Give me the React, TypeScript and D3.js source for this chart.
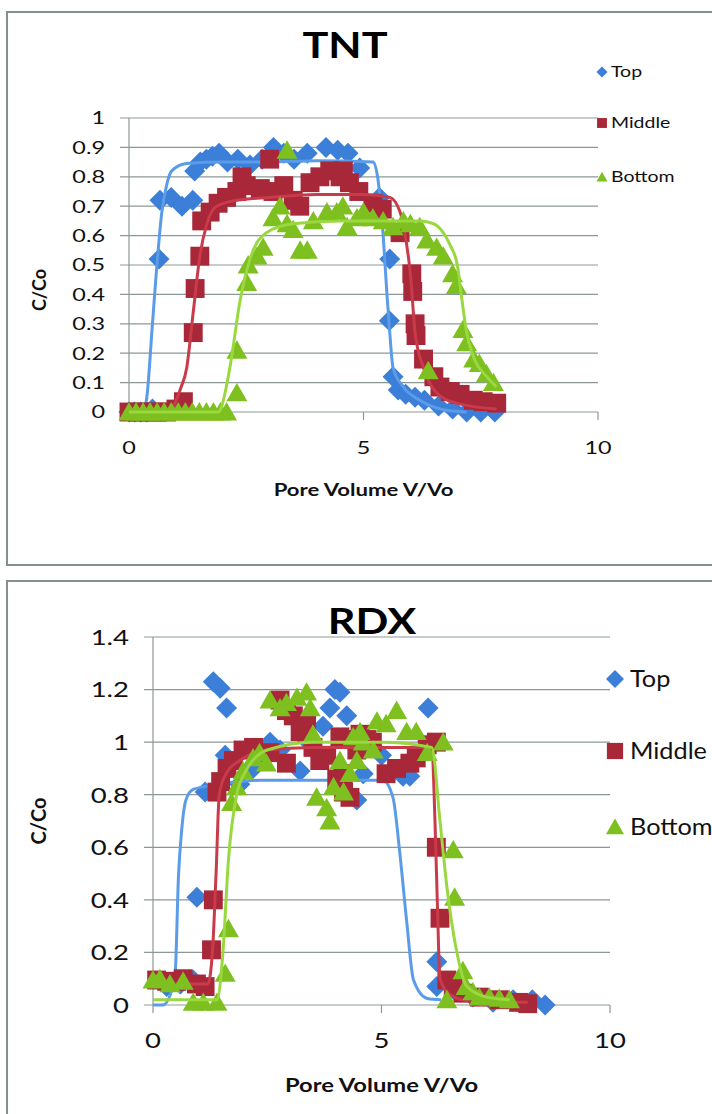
import * as d3 from 'd3';

// ---- data ----
type Pt = [number, number];

const seriesNames = ['Top', 'Middle', 'Bottom'];
const xTicks = [0, 5, 10];
const tntYTicks = [0, 0.1, 0.2, 0.3, 0.4, 0.5, 0.6, 0.7, 0.8, 0.9, 1];
const rdxYTicks = [0, 0.2, 0.4, 0.6, 0.8, 1, 1.2, 1.4];

// TNT observed
const tntTop: Pt[] = [
  [0, 0], [0.12, 0], [0.25, 0], [0.38, 0], [0.5, 0.01], [0.64, 0.52], [0.66, 0.72], [0.9, 0.73],
  [1.13, 0.7], [1.36, 0.72], [1.4, 0.82], [1.52, 0.85], [1.65, 0.86], [1.78, 0.87], [1.92, 0.88],
  [2.1, 0.85], [2.32, 0.86], [2.58, 0.84], [2.84, 0.86], [3.08, 0.9], [3.3, 0.88], [3.52, 0.86],
  [3.8, 0.88], [4.2, 0.9], [4.45, 0.89], [4.67, 0.88], [4.92, 0.83], [5.34, 0.73], [5.56, 0.52],
  [5.55, 0.31], [5.63, 0.12], [5.74, 0.075], [5.9, 0.06], [6.1, 0.05], [6.3, 0.04], [6.6, 0.02],
  [6.9, 0.01], [7.2, 0], [7.5, 0], [7.8, 0],
];
const tntMiddle: Pt[] = [
  [0, 0], [0.2, 0], [0.4, 0], [0.6, 0], [0.8, 0], [1.0, 0.01], [1.16, 0.035], [1.37, 0.27],
  [1.41, 0.42], [1.51, 0.53], [1.55, 0.65], [1.73, 0.68], [1.9, 0.71], [2.08, 0.73], [2.3, 0.75],
  [2.41, 0.8], [2.5, 0.77], [2.8, 0.76], [3.0, 0.86], [3.07, 0.75], [3.3, 0.77], [3.5, 0.72],
  [3.64, 0.7], [3.86, 0.78], [4.07, 0.8], [4.28, 0.82], [4.5, 0.8], [4.57, 0.82], [4.7, 0.78],
  [4.9, 0.75], [5.2, 0.71], [5.4, 0.69], [5.78, 0.61], [6.03, 0.47], [6.05, 0.41], [6.1, 0.3],
  [6.12, 0.26], [6.28, 0.18], [6.5, 0.12], [6.63, 0.085], [6.85, 0.07], [7.06, 0.06], [7.34, 0.04],
  [7.55, 0.035], [7.84, 0.03],
];
const tntBottom: Pt[] = [
  [0, 0], [0.15, 0], [0.3, 0], [0.45, 0], [0.6, 0], [0.75, 0], [0.9, 0], [1.05, 0], [1.2, 0],
  [1.35, 0], [1.5, 0], [1.65, 0], [1.8, 0], [1.95, 0], [2.08, 0], [2.3, 0.065], [2.3, 0.21],
  [2.51, 0.44], [2.54, 0.5], [2.73, 0.53], [2.86, 0.56], [3.07, 0.66], [3.22, 0.7], [3.37, 0.89],
  [3.37, 0.64], [3.5, 0.62], [3.65, 0.55], [3.8, 0.55], [3.93, 0.65], [4.22, 0.68], [4.43, 0.68],
  [4.56, 0.7], [4.65, 0.63], [4.86, 0.66], [5.0, 0.68], [5.2, 0.66], [5.42, 0.65], [5.63, 0.63],
  [5.85, 0.65], [6.0, 0.64], [6.2, 0.63], [6.35, 0.585], [6.38, 0.14], [6.56, 0.56], [6.7, 0.53],
  [6.9, 0.47], [6.98, 0.43], [7.12, 0.28], [7.2, 0.235], [7.35, 0.18], [7.47, 0.165], [7.62, 0.13],
  [7.77, 0.1],
];
// TNT fitted curves
const tntTopFit: Pt[] = [
  [0, 0], [0.3, 0], [0.38, 0.05], [0.5, 0.3], [0.59, 0.49], [0.7, 0.68], [0.8, 0.77], [0.91, 0.82],
  [1.23, 0.845], [2, 0.85], [3, 0.85], [4, 0.855], [5.2, 0.85], [5.3, 0.8], [5.42, 0.6], [5.5, 0.4],
  [5.56, 0.27], [5.63, 0.15], [5.85, 0.085], [6.2, 0.04], [6.8, 0.005], [7.2, 0],
];
const tntMiddleFit: Pt[] = [
  [0, 0], [0.9, 0], [0.98, 0.03], [1.1, 0.08], [1.23, 0.15], [1.37, 0.34], [1.51, 0.53],
  [1.66, 0.64], [1.87, 0.7], [2.3, 0.72], [3, 0.73], [4, 0.74], [5, 0.74], [5.56, 0.73],
  [5.78, 0.68], [5.92, 0.57], [6.0, 0.47], [6.1, 0.27], [6.28, 0.15], [6.56, 0.065], [6.98, 0.03],
  [7.84, 0.01],
];
const tntBottomFit: Pt[] = [
  [0, 0], [1.9, 0], [1.94, 0.005], [2.15, 0.15], [2.37, 0.38], [2.58, 0.52], [2.93, 0.61],
  [3.5, 0.64], [4.5, 0.65], [5.5, 0.65], [6.2, 0.65], [6.5, 0.64], [6.7, 0.61], [6.84, 0.57],
  [7.0, 0.5], [7.1, 0.38], [7.2, 0.27], [7.34, 0.19], [7.63, 0.12], [7.84, 0.085],
];

// RDX observed
const rdxTop: Pt[] = [
  [0.3, 0.07], [0.6, 0.08], [0.88, 0.095], [0.96, 0.41], [1.14, 0.81], [1.32, 1.23], [1.47, 1.205],
  [1.61, 1.13], [1.58, 0.95], [1.9, 0.84], [2.19, 0.9], [2.56, 1.0], [2.78, 0.97], [3.22, 0.89],
  [3.29, 1.02], [3.72, 1.06], [3.87, 1.13], [3.98, 1.2], [4.09, 1.19], [4.24, 1.1], [4.46, 0.78],
  [4.6, 0.88], [5.0, 0.95], [5.47, 0.87], [5.62, 0.87], [6.02, 1.13], [6.21, 0.165], [6.21, 0.07],
  [6.57, 0.06], [7.0, 0.03], [7.44, 0.01], [7.88, 0.02], [8.3, 0.02], [8.58, 0.0],
];
const rdxMiddle: Pt[] = [
  [0.08, 0.095], [0.3, 0.09], [0.52, 0.09], [0.66, 0.1], [0.95, 0.08], [1.14, 0.07], [1.28, 0.21],
  [1.32, 0.4], [1.4, 0.81], [1.48, 0.85], [1.62, 0.9], [1.76, 0.93], [1.97, 0.97], [2.2, 0.98],
  [2.56, 0.96], [2.78, 1.16], [2.92, 1.12], [2.92, 0.92], [3.07, 1.1], [3.22, 1.04], [3.36, 1.07],
  [3.5, 0.98], [3.65, 0.93], [3.8, 0.95], [4.02, 0.86], [4.09, 1.02], [4.16, 0.88], [4.17, 0.81],
  [4.31, 0.79], [4.38, 1.01], [4.46, 0.97], [4.53, 1.03], [4.68, 1.01], [4.8, 1.0], [5.1, 0.88],
  [5.33, 0.9], [5.62, 0.92], [5.76, 0.94], [6.0, 0.99], [6.2, 1.0], [6.2, 0.6], [6.28, 0.33],
  [6.43, 0.095], [6.57, 0.07], [6.78, 0.045], [7.14, 0.03], [7.58, 0.02], [8.0, 0.01], [8.2, 0.005],
];
const rdxBottom: Pt[] = [
  [0, 0.095], [0.15, 0.1], [0.37, 0.08], [0.66, 0.09], [0.88, 0.01], [1.1, 0.01], [1.4, 0.01],
  [1.58, 0.12], [1.65, 0.29], [1.72, 0.77], [1.83, 0.83], [1.97, 0.89], [2.19, 0.94], [2.33, 0.96],
  [2.48, 0.92], [2.56, 1.16], [2.78, 1.13], [2.92, 1.15], [3.15, 1.17], [3.36, 1.19], [3.44, 1.13],
  [3.5, 1.03], [3.58, 0.79], [3.8, 0.75], [3.87, 0.7], [3.95, 0.83], [4.09, 0.93], [4.17, 0.81],
  [4.31, 0.88], [4.38, 1.02], [4.46, 0.93], [4.53, 1.04], [4.6, 1.0], [4.82, 0.97], [4.9, 1.08],
  [5.1, 1.07], [5.33, 1.12], [5.55, 1.04], [5.76, 1.04], [6.0, 0.96], [6.35, 1.0], [6.43, 0.02],
  [6.57, 0.59], [6.6, 0.41], [6.78, 0.13], [6.85, 0.07], [7.0, 0.05], [7.14, 0.03], [7.36, 0.03],
  [7.58, 0.025], [7.8, 0.02],
];
// RDX fitted curves
const rdxTopFit: Pt[] = [
  [0, 0], [0.22, 0], [0.4, 0.05], [0.48, 0.1], [0.56, 0.5], [0.62, 0.65], [0.72, 0.78], [0.88, 0.82],
  [1.47, 0.84], [2.34, 0.855], [3.5, 0.855], [5.03, 0.855], [5.25, 0.79], [5.4, 0.58], [5.55, 0.32],
  [5.7, 0.095], [6.0, 0.025], [6.3, 0.02],
];
const rdxMiddleFit: Pt[] = [
  [0, 0.08], [1.2, 0.08], [1.3, 0.2], [1.38, 0.5], [1.45, 0.8], [1.6, 0.88], [1.9, 0.93],
  [2.5, 0.97], [3.5, 0.98], [5, 0.98], [6.1, 0.98], [6.17, 0.7], [6.22, 0.4], [6.28, 0.1],
  [6.5, 0.04], [6.8, 0.02], [8.2, 0.01],
];
const rdxBottomFit: Pt[] = [
  [0, 0.02], [1.4, 0.02], [1.53, 0.2], [1.65, 0.55], [1.83, 0.8], [2.0, 0.88], [2.5, 0.97],
  [3.5, 1.0], [5, 1.0], [6.1, 0.98], [6.28, 0.7], [6.43, 0.45], [6.65, 0.2], [6.87, 0.07],
  [7.3, 0.03], [7.8, 0.02],
];

// ---- styling ----
const markerColors = ['#3c7fd8', '#a8283a', '#7dc01f'];
const lineColors = ['#5a9ce8', '#c93a4a', '#9ad840'];
const axisColor = '#8d9797';
const FONT = 'Lato, "Liberation Sans", Arial, sans-serif';

const markerPath = (kind: number, s: number) => {
  const h = s / 2;
  if (kind === 0) return `M0,${-h}L${h},0L0,${h}L${-h},0Z`;
  if (kind === 1) return `M${-h * 0.9},${-h * 0.9}H${h * 0.9}V${h * 0.9}H${-h * 0.9}Z`;
  return `M0,${-h * 0.95}L${h},${h * 0.8}L${-h},${h * 0.8}Z`;
};

type PanelProps = {
  title: string;
  top: number;
  x0: number;
  x1: number;
  yPix0: number;
  yPix1: number;
  yMax: number;
  yTicks: number[];
  points: Pt[][];
  fits: Pt[][];
  tickFont: number;
  labelFont: number;
  titleX: number;
  titleY: number;
  titleFont: number;
  xLabelY: number;
  xTickY: number;
  yLabelX: number;
  yLabelY: number;
  legendX: number;
  legendYs: number[];
  legendFont: number;
  legendMarker: number;
  legendGap: number;
  legendSx: number;
  marker: number;
  sx: number;
};

const Panel = (p: PanelProps) => {
  const x = d3.scaleLinear().domain([0, 10]).range([p.x0, p.x1]);
  const y = d3.scaleLinear().domain([0, p.yMax]).range([p.yPix0, p.yPix1]);
  const line = d3
    .line<Pt>()
    .x((d) => x(d[0]))
    .y((d) => y(d[1]))
    .curve(d3.curveMonotoneX);
  const fmt = (v: number) => String(+v.toFixed(1));

  return (
    <g fontFamily={FONT}>
      <rect x={7} y={p.top} width={740} height={553} fill="white" stroke="#858f8f" strokeWidth={2} />
      {/* grid */}
      {p.yTicks.map((t) => (
        <line key={'g' + t} x1={p.x0 - 9} x2={p.x1} y1={y(t)} y2={y(t)} stroke={axisColor} strokeWidth={1.2} />
      ))}
      <line x1={p.x0} x2={p.x0} y1={y(p.yMax)} y2={y(0)} stroke={axisColor} strokeWidth={1.2} />
      {xTicks.map((t) => (
        <line key={'xt' + t} x1={x(t)} x2={x(t)} y1={y(0)} y2={y(0) + 8} stroke={axisColor} strokeWidth={1.2} />
      ))}
      {/* tick labels */}
      {p.yTicks.map((t) => (
        <text
          key={'yl' + t}
          transform={`translate(${p.x0 - 24},${y(t) + p.tickFont * 0.36}) scale(${p.sx},1)`}
          textAnchor="end"
          fontSize={p.tickFont}
          fill="#111"
        >
          {fmt(t)}
        </text>
      ))}
      {xTicks.map((t) => (
        <text
          key={'xl' + t}
          transform={`translate(${x(t)},${p.xTickY}) scale(${p.sx},1)`}
          textAnchor="middle"
          fontSize={p.tickFont}
          fill="#111"
        >
          {t}
        </text>
      ))}
      {/* series: markers then fit line */}
      {p.points.map((pts, i) => (
        <g key={'s' + i}>
          {pts.map((d, j) => (
            <path
              key={j}
              d={markerPath(i, p.marker)}
              transform={`translate(${x(d[0])},${y(d[1])})`}
              fill={markerColors[i]}
            />
          ))}
          <path d={line(p.fits[i]) ?? ''} fill="none" stroke={lineColors[i]} strokeWidth={3} strokeLinejoin="round" />
        </g>
      ))}
      {/* titles */}
      <text
        transform={`translate(${p.titleX},${p.titleY}) scale(1.2,1)`}
        textAnchor="middle"
        fontSize={p.titleFont}
        fontWeight="bold"
        fill="#000"
      >
        {p.title}
      </text>
      <text
        transform={`translate(${(p.x0 + p.x1) / 2},${p.xLabelY}) scale(${p.sx},1)`}
        textAnchor="middle"
        fontSize={p.labelFont}
        fontWeight="bold"
        fill="#111"
      >
        Pore Volume V/Vo
      </text>
      <text
        transform={`translate(${p.yLabelX},${p.yLabelY}) rotate(-90)`}
        textAnchor="middle"
        fontSize={p.labelFont + 1}
        fontWeight="bold"
        fill="#111"
      >
        C/Co
      </text>
      {/* legend */}
      {seriesNames.map((n, i) => (
        <g key={n} transform={`translate(${p.legendX},${p.legendYs[i]})`}>
          <path d={markerPath(i, p.legendMarker)} fill={markerColors[i]} />
          <text
            transform={`translate(${p.legendGap},${p.legendFont * 0.36}) scale(${p.legendSx},1)`}
            fontSize={p.legendFont}
            fill="#111"
          >
            {n}
          </text>
        </g>
      ))}
    </g>
  );
};

const App = () => {
  return (
    <svg width={712} height={1114} style={{ position: 'absolute', left: 0, top: 0, background: 'white' }}>
      <rect width={712} height={1114} fill="white" />
      <Panel
        title="TNT"
        top={12}
        x0={129}
        x1={598}
        yPix0={412}
        yPix1={118}
        yMax={1}
        yTicks={tntYTicks}
        points={[tntTop, tntMiddle, tntBottom]}
        fits={[tntTopFit, tntMiddleFit, tntBottomFit]}
        tickFont={18}
        labelFont={17}
        titleX={345}
        titleY={58}
        titleFont={36}
        xLabelY={496}
        xTickY={454}
        yLabelX={46}
        yLabelY={290}
        legendX={602}
        legendYs={[72, 123, 177]}
        legendFont={15}
        legendMarker={11}
        legendGap={9}
        legendSx={1.3}
        marker={21}
        sx={1.3}
      />
      <Panel
        title="RDX"
        top={581}
        x0={153}
        x1={610}
        yPix0={1005}
        yPix1={637}
        yMax={1.4}
        yTicks={rdxYTicks}
        points={[rdxTop, rdxMiddle, rdxBottom]}
        fits={[rdxTopFit, rdxMiddleFit, rdxBottomFit]}
        tickFont={22}
        labelFont={19}
        titleX={372}
        titleY={634}
        titleFont={36}
        xLabelY={1092}
        xTickY={1048}
        yLabelX={46}
        yLabelY={821}
        legendX={615}
        legendYs={[679, 751, 827]}
        legendFont={23}
        legendMarker={18}
        legendGap={15}
        legendSx={1.1}
        marker={21}
        sx={1.25}
      />
    </svg>
  );
};

export default App;
